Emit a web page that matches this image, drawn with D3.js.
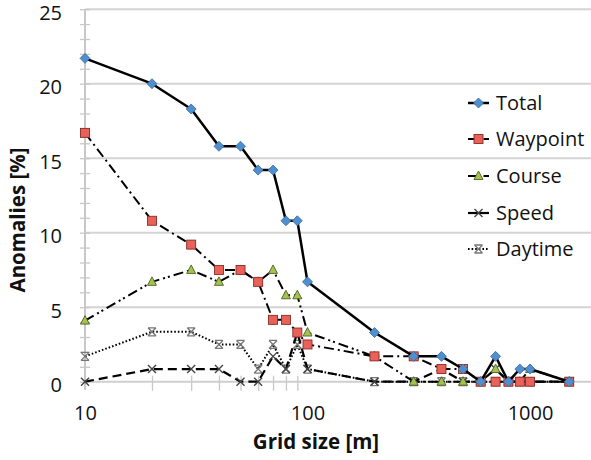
<!DOCTYPE html>
<html>
<head>
<meta charset="utf-8">
<script src="https://cdn.jsdelivr.net/npm/d3@7"></script>
<style>
  html, body { margin: 0; padding: 0; background: #fff; }
  svg { display: block; }
</style>
</head>
<body>
<script>
const width = 591;
const height = 460;

// grid sizes in metres
const gridSizes = [10, 20, 30, 40, 50, 60, 70, 80, 90, 100, 200, 300, 400, 500, 600, 700, 800, 900, 1000, 1500];

const total    = [21.7, 20.0, 18.3, 15.8, 15.8, 14.2, 14.2, 10.8, 10.8, 6.7, 3.3, 1.7, 1.7, 0.85, 0, 1.7, 0, 0.85, 0.85, 0];
const waypoint = [16.7, 10.8, 9.2, 7.5, 7.5, 6.7, 4.15, 4.15, 3.3, 2.5, 1.7, 1.7, 0.85, 0.85, 0, 0, 0, 0, 0, 0];
const course   = [4.1, 6.7, 7.5, 6.7, 7.5, 6.7, 7.5, 5.8, 5.8, 3.3, 1.7, 0, 0, 0, 0, 0.85, 0, 0, 0.85, 0];
const speed    = [0, 0.85, 0.85, 0.85, 0, 0, 1.7, 0.85, 3.3, 0.85, 0, 0, 0.85, 0, 0, 0.85, 0, 0, 0, 0];
const daytime  = [1.7, 3.35, 3.35, 2.5, 2.5, 0.85, 2.5, 0.85, 2.5, 0.85, 0, 0, 0, 0, 0, 0, 0, 0, 0, 0];

const seriesNames = ['Total', 'Waypoint', 'Course', 'Speed', 'Daytime'];
const seriesValues = [total, waypoint, course, speed, daytime];

const xTicks = [10, 100, 1000];
const xMinorTicks = [20, 30, 40, 50, 60, 70, 80, 90];
const yTicks = [0, 5, 10, 15, 20, 25];
const yMinorTicks = d3.range(0, 26);

const styles = {
  Total:    { dash: null,               width: 2.5, marker: 'diamond' },
  Waypoint: { dash: '10,4,2,4',         width: 2,   marker: 'square' },
  Course:   { dash: '10,4,2,3,2,4',     width: 2,   marker: 'triangle' },
  Speed:    { dash: '9,5',              width: 2.2, marker: 'x' },
  Daytime:  { dash: '1.6,2',            width: 2,   marker: 'star' },
};

const x = d3.scaleLog().domain([10, 2000]).range([85, 597]);
const y = d3.scaleLinear().domain([0, 25]).range([381.7, 9.2]);

const font = '"Open Sans", "Liberation Sans", sans-serif';

const svg = d3.select('body')
  .append('svg')
  .attr('width', width)
  .attr('height', height)
  .attr('viewBox', [0, 0, width, height])
  .style('font-family', font);

// horizontal gridlines
svg.append('g')
  .selectAll('line')
  .data(yTicks.filter(d => d > 0))
  .join('line')
    .attr('x1', x(10))
    .attr('x2', width)
    .attr('y1', d => y(d))
    .attr('y2', d => y(d))
    .attr('stroke', '#d4d4d4')
    .attr('stroke-width', 2);

// y axis with minor ticks
const yAxisG = svg.append('g')
  .attr('transform', `translate(${x(10)},0)`)
  .call(d3.axisLeft(y).tickValues(yMinorTicks).tickSize(5).tickFormat(''));
yAxisG.select('.domain').remove();
yAxisG.selectAll('.tick line')
  .attr('x1', 5)
  .attr('stroke', '#c8c8c8')
  .attr('stroke-width', 1.3);

svg.append('line')
  .attr('x1', x(10)).attr('x2', x(10))
  .attr('y1', y(25)).attr('y2', y(0) + 8)
  .attr('stroke', '#c8c8c8')
  .attr('stroke-width', 2);

svg.append('g')
  .selectAll('text')
  .data(yTicks)
  .join('text')
    .attr('x', 62)
    .attr('y', d => y(d) + 3.5)
    .attr('dy', '0.36em')
    .attr('text-anchor', 'end')
    .attr('font-size', 20)
    .attr('fill', '#111')
    .text(d => d);

// x axis
svg.append('line')
  .attr('x1', x(10)).attr('x2', width)
  .attr('y1', y(0)).attr('y2', y(0))
  .attr('stroke', '#cfcfcf')
  .attr('stroke-width', 2);

const xAxisG = svg.append('g')
  .attr('transform', `translate(0,${y(0)})`)
  .call(d3.axisBottom(x).tickValues(xMinorTicks).tickSize(9).tickFormat(''));
xAxisG.select('.domain').remove();
xAxisG.selectAll('.tick line')
  .attr('y1', -6)
  .attr('stroke', '#c8c8c8')
  .attr('stroke-width', 1.3);

const xLabels = svg.append('g')
  .attr('transform', `translate(0,${y(0)})`)
  .call(d3.axisBottom(x).tickValues(xTicks).tickSize(0).tickPadding(24).tickFormat(d3.format('d')));
xLabels.select('.domain').remove();
xLabels.selectAll('text')
  .attr('font-size', 20)
  .attr('font-family', font)
  .attr('fill', '#111');

// axis titles
svg.append('text')
  .attr('x', 316)
  .attr('y', 449)
  .attr('text-anchor', 'middle')
  .attr('font-size', 20.5)
  .attr('font-weight', 'bold')
  .attr('fill', '#111')
  .text('Grid size [m]');

svg.append('text')
  .attr('transform', 'translate(25,220) rotate(-90)')
  .attr('text-anchor', 'middle')
  .attr('font-size', 20.5)
  .attr('font-weight', 'bold')
  .attr('fill', '#111')
  .text('Anomalies [%]');

// markers
function drawMarker(g, kind, cx, cy) {
  if (kind === 'diamond') {
    g.append('path')
      .attr('d', `M${cx},${cy - 5}L${cx + 5},${cy}L${cx},${cy + 5}L${cx - 5},${cy}Z`)
      .attr('fill', '#4f8fd0')
      .attr('stroke', '#3a6a9a')
      .attr('stroke-width', 0.8);
  } else if (kind === 'square') {
    g.append('rect')
      .attr('x', cx - 4.5).attr('y', cy - 4.5)
      .attr('width', 9).attr('height', 9)
      .attr('fill', '#e8625a')
      .attr('stroke', '#8c2a26')
      .attr('stroke-width', 0.9);
  } else if (kind === 'triangle') {
    g.append('path')
      .attr('d', `M${cx},${cy - 5}L${cx + 4.5},${cy + 3.5}L${cx - 4.5},${cy + 3.5}Z`)
      .attr('fill', '#a3c24e')
      .attr('stroke', '#4f6126')
      .attr('stroke-width', 0.9);
  } else if (kind === 'x') {
    g.append('path')
      .attr('d', `M${cx - 4},${cy - 4}L${cx + 4},${cy + 4}M${cx - 4},${cy + 4}L${cx + 4},${cy - 4}`)
      .attr('stroke', '#444')
      .attr('stroke-width', 1.4);
  } else if (kind === 'star') {
    g.append('path')
      .attr('d', `M${cx - 4},${cy - 4}L${cx + 4},${cy + 4}M${cx - 4},${cy + 4}L${cx + 4},${cy - 4}` +
        `M${cx - 4},${cy - 4}L${cx + 4},${cy - 4}M${cx - 4},${cy + 4}L${cx + 4},${cy + 4}`)
      .attr('stroke', '#777')
      .attr('stroke-width', 1.3);
  }
}

const line = d3.line()
  .x(d => x(d[0]))
  .y(d => y(d[1]));

// draw back to front so Total sits on top
const order = [4, 3, 2, 1, 0];
order.forEach(i => {
  const name = seriesNames[i];
  const st = styles[name];
  const pts = gridSizes.map((g, j) => [g, seriesValues[i][j]]);
  const g = svg.append('g').attr('class', 'series');
  g.append('path')
    .datum(pts)
    .attr('d', line)
    .attr('fill', 'none')
    .attr('stroke', '#000')
    .attr('stroke-width', st.width)
    .attr('stroke-linejoin', 'round')
    .attr('stroke-dasharray', st.dash);
  pts.forEach(p => drawMarker(g, st.marker, x(p[0]), y(p[1])));
});

// legend
const legendY = [103, 139, 176, 213, 249];
const legend = svg.append('g');
seriesNames.forEach((name, i) => {
  const st = styles[name];
  const ly = legendY[i];
  legend.append('line')
    .attr('x1', 468).attr('x2', 489)
    .attr('y1', ly).attr('y2', ly)
    .attr('stroke', '#000')
    .attr('stroke-width', st.width)
    .attr('stroke-dasharray', name === 'Daytime' ? '1.6,2' : (name === 'Total' || name === 'Speed' ? null : '8,3,1.5,3'));
  drawMarker(legend, st.marker, 478.5, ly);
  legend.append('text')
    .attr('x', 496)
    .attr('y', ly)
    .attr('dy', '0.36em')
    .attr('font-size', 20)
    .attr('fill', '#111')
    .text(name);
});
</script>
</body>
</html>
